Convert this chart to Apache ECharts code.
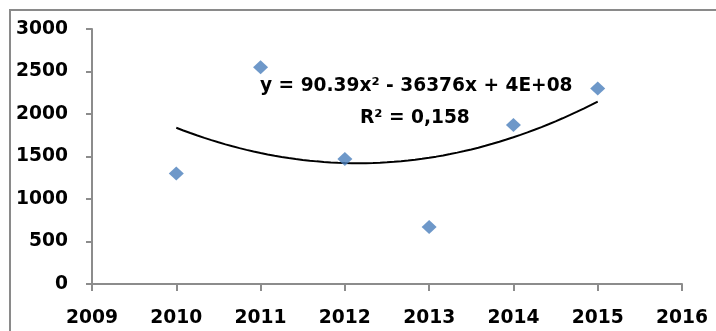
<!DOCTYPE html>
<html>
<head>
<meta charset="utf-8">
<script src="https://cdn.jsdelivr.net/npm/echarts@6/dist/echarts.min.js"></script>
<style>
  html, body { margin: 0; padding: 0; background: #fff; }
  #chart { width: 716px; height: 331px; }
</style>
</head>
<body>
<div id="chart"></div>
<script>
// Yearly observations
const years = [2010, 2011, 2012, 2013, 2014, 2015];
const values = [1300, 2550, 1470, 670, 1870, 2300];
const yTicks = [0, 500, 1000, 1500, 2000, 2500, 3000];
const xTicks = [2009, 2010, 2011, 2012, 2013, 2014, 2015, 2016];
const trendEquation = 'y = 90.39x² - 36376x + 4E+08';
const trendR2 = 'R² = 0,158';

// Second-order least-squares fit (centred on the mean year for stability)
function polyFit2(xs, ys) {
  const n = xs.length;
  const m = xs.reduce((a, b) => a + b, 0) / n;
  let s1 = 0, s2 = 0, s3 = 0, s4 = 0, sy = 0, sty = 0, st2y = 0;
  xs.forEach((x, i) => {
    const t = x - m, y = ys[i];
    s1 += t; s2 += t * t; s3 += t * t * t; s4 += t * t * t * t;
    sy += y; sty += t * y; st2y += t * t * y;
  });
  // Solve normal equations [n s1 s2; s1 s2 s3; s2 s3 s4] [c b a] = [sy sty st2y]
  const A = [[n, s1, s2, sy], [s1, s2, s3, sty], [s2, s3, s4, st2y]];
  for (let i = 0; i < 3; i++) {
    let p = i;
    for (let r = i + 1; r < 3; r++) if (Math.abs(A[r][i]) > Math.abs(A[p][i])) p = r;
    [A[i], A[p]] = [A[p], A[i]];
    for (let r = 0; r < 3; r++) {
      if (r === i) continue;
      const f = A[r][i] / A[i][i];
      for (let k = i; k < 4; k++) A[r][k] -= f * A[i][k];
    }
  }
  const c = A[0][3] / A[0][0], b = A[1][3] / A[1][1], a = A[2][3] / A[2][2];
  return x => { const t = x - m; return a * t * t + b * t + c; };
}

const fit = polyFit2(years, values);
const trend = [];
const x0 = years[0], x1 = years[years.length - 1], steps = 60;
for (let i = 0; i <= steps; i++) {
  const x = x0 + (x1 - x0) * i / steps;
  trend.push([x, fit(x)]);
}

const axisGrey = '#8c8c8c';
const font = 'DejaVu Sans';
const labelSize = 18.7;

const chart = echarts.init(document.getElementById('chart'), null, { renderer: 'canvas' });
chart.setOption({
  animation: false,
  backgroundColor: '#ffffff',
  grid: { left: 92, right: 34, top: 29, bottom: 47, containLabel: false },
  xAxis: {
    type: 'value',
    min: xTicks[0],
    max: xTicks[xTicks.length - 1],
    interval: 1,
    axisLine: { show: true, onZero: false, lineStyle: { color: axisGrey, width: 2 } },
    axisTick: { show: true, length: 7, lineStyle: { color: axisGrey, width: 2 } },
    splitLine: { show: false },
    axisLabel: {
      color: '#000', fontFamily: font, fontWeight: 'bold', fontSize: labelSize, margin: 25,
      formatter: v => String(v)
    }
  },
  yAxis: {
    type: 'value',
    min: yTicks[0],
    max: yTicks[yTicks.length - 1],
    interval: 500,
    axisLine: { show: true, lineStyle: { color: axisGrey, width: 2 } },
    axisTick: { show: true, length: 6, lineStyle: { color: axisGrey, width: 2 } },
    splitLine: { show: false },
    axisLabel: {
      color: '#000', fontFamily: font, fontWeight: 'bold', fontSize: labelSize, margin: 24,
      formatter: v => String(v)
    }
  },
  graphic: [
    {
      type: 'polyline',
      shape: { points: [[10, 331], [10, 10], [716, 10]] },
      style: { stroke: '#8a8a8a', lineWidth: 2, fill: null },
      silent: true
    },
    {
      type: 'text', left: 260, top: 77,
      style: { text: trendEquation, fill: '#000', font: 'bold 18.6px "DejaVu Sans"' }
    },
    {
      type: 'text', left: 360, top: 109,
      style: { text: trendR2, fill: '#000', font: 'bold 18.6px "DejaVu Sans"' }
    }
  ],
  series: [
    {
      type: 'line',
      data: trend,
      showSymbol: false,
      smooth: false,
      lineStyle: { color: '#000', width: 2 },
      z: 2
    },
    {
      type: 'scatter',
      data: years.map((y, i) => [y, values[i]]),
      symbol: 'diamond',
      symbolSize: [15, 14],
      itemStyle: { color: '#4a7ebb' },
      z: 3
    }
  ]
});
</script>
</body>
</html>
